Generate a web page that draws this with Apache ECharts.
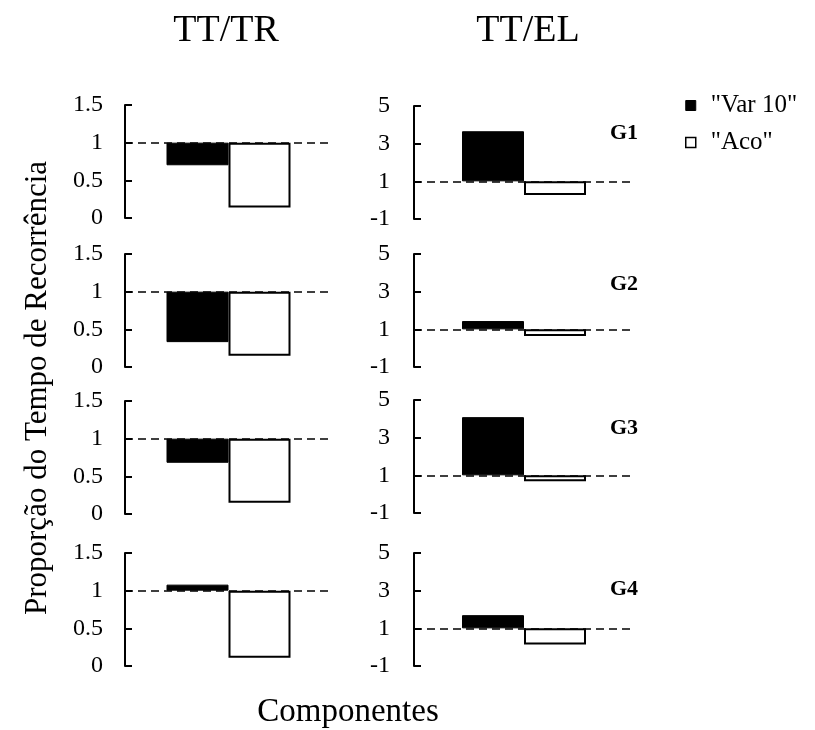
<!DOCTYPE html>
<html>
<head>
<meta charset="utf-8">
<script src="https://cdn.jsdelivr.net/npm/echarts@6/dist/echarts.min.js"></script>
<style>
  html, body { margin: 0; padding: 0; background: #fff; }
  #chart { width: 815px; height: 730px; }
</style>
</head>
<body>
<div id="chart"></div>
<script>
// ---- data ----
const groups = ['G1', 'G2', 'G3', 'G4'];
const columnTitles = ['TT/TR', 'TT/EL'];
const seriesNames = ['"Var 10"', '"Aco"'];
const trVar10 = [0.70, 0.33, 0.68, 1.08];
const trAco = [0.14, 0.15, 0.15, 0.11];
const elVar10 = [3.66, 1.44, 4.09, 1.70];
const elAco = [0.28, 0.64, 0.68, 0.14];
const trTicks = [0, 0.5, 1, 1.5];
const elTicks = [-1, 1, 3, 5];
const baseline = 1;
const xTitle = 'Componentes';
const yTitle = 'Proporção do Tempo de Recorrência';

// ---- layout ----
const FONT = '"Liberation Serif", "Times New Roman", serif';
const colLayout = [
  { left: 125, width: 207, tops: [105, 254, 401, 553], height: 113, ticks: trTicks, v10: trVar10, aco: trAco, labelMargin: 22 },
  { left: 414, width: 220, tops: [106, 254, 400, 553], height: 113, ticks: elTicks, v10: elVar10, aco: elAco, labelMargin: 24 }
];

const grids = [], xAxes = [], yAxes = [], series = [];
let idx = 0;
colLayout.forEach((col, c) => {
  groups.forEach((g, r) => {
    grids.push({ left: col.left, top: col.tops[r], width: col.width, height: col.height });
    xAxes.push({ type: 'category', gridIndex: idx, data: [xTitle], show: false });
    const ticks = col.ticks;
    yAxes.push({
      type: 'value', gridIndex: idx,
      min: ticks[0], max: ticks[ticks.length - 1], interval: ticks[1] - ticks[0],
      axisLine: { show: true, onZero: false, lineStyle: { color: '#000', width: 2 } },
      axisTick: { show: true, inside: true, length: 7, lineStyle: { color: '#000', width: 2 } },
      axisLabel: { color: '#000', fontSize: 24, fontFamily: FONT, margin: col.labelMargin, showMinLabel: true, showMaxLabel: true },
      splitLine: { show: false }
    });
    const v = col.v10[r], a = col.aco[r];
    const common = { type: 'bar', xAxisIndex: idx, yAxisIndex: idx, barWidth: 62, barGap: '0%', animation: false };
    series.push(Object.assign({}, common, {
      name: 'baseV' + idx, stack: 'v' + idx, silent: true,
      data: [Math.min(v, baseline)], itemStyle: { color: 'transparent' }
    }));
    series.push(Object.assign({}, common, {
      name: seriesNames[0], stack: 'v' + idx,
      data: [Math.abs(v - baseline)], itemStyle: { color: '#000', borderColor: '#000', borderWidth: 1 },
      markLine: {
        silent: true, symbol: 'none', label: { show: false },
        lineStyle: { type: [8, 5], color: '#000', width: 1.5 },
        data: [{ yAxis: baseline }]
      }
    }));
    series.push(Object.assign({}, common, {
      name: 'baseA' + idx, stack: 'a' + idx, silent: true,
      data: [Math.min(a, baseline)], itemStyle: { color: 'transparent' }
    }));
    series.push(Object.assign({}, common, {
      name: seriesNames[1], stack: 'a' + idx,
      data: [Math.abs(a - baseline)], itemStyle: { color: '#fff', borderColor: '#000', borderWidth: 2 }
    }));
    idx++;
  });
});

const groupLabelY = [133, 284, 428, 589];
const graphic = [
  { type: 'text', x: 226, y: 31, style: { text: columnTitles[0], font: '38px ' + FONT, fill: '#000', align: 'center', verticalAlign: 'middle' } },
  { type: 'text', x: 528, y: 31, style: { text: columnTitles[1], font: '38px ' + FONT, fill: '#000', align: 'center', verticalAlign: 'middle' } },
  { type: 'text', x: 348, y: 712, style: { text: xTitle, font: '33px ' + FONT, fill: '#000', align: 'center', verticalAlign: 'middle' } },
  { type: 'text', x: 38, y: 388, rotation: Math.PI / 2, style: { text: yTitle, font: '31px ' + FONT, fill: '#000', align: 'center', verticalAlign: 'middle' } }
];
groups.forEach((g, r) => {
  graphic.push({ type: 'text', x: 624, y: groupLabelY[r], style: { text: g, font: 'bold 22px ' + FONT, fill: '#000', align: 'center', verticalAlign: 'middle' } });
});

const chart = echarts.init(document.getElementById('chart'), null, { renderer: 'canvas' });
chart.setOption({
  backgroundColor: '#fff',
  animation: false,
  grid: grids,
  xAxis: xAxes,
  yAxis: yAxes,
  series: series,
  legend: {
    orient: 'vertical', left: 685, top: 93, padding: 0,
    itemWidth: 10, itemHeight: 10, itemGap: 12, icon: 'rect', selectedMode: false,
    textStyle: { color: '#000', fontSize: 25, fontFamily: FONT, padding: [0, 0, 0, 10] },
    data: [
      { name: seriesNames[0], itemStyle: { color: '#000', borderColor: '#000', borderWidth: 1 } },
      { name: seriesNames[1], itemStyle: { color: '#fff', borderColor: '#000', borderWidth: 1.5 } }
    ]
  },
  graphic: graphic
});
</script>
</body>
</html>
